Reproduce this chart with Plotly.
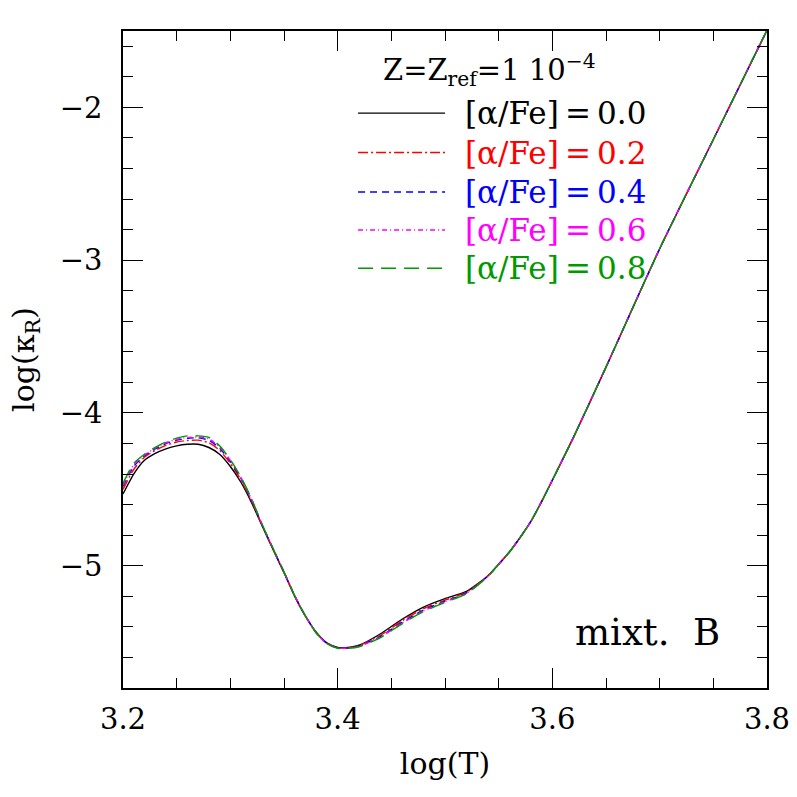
import plotly.graph_objects as go

# log(T) grid shared by all curves
log_t = [3.20, 3.21, 3.22, 3.23, 3.24, 3.25, 3.26, 3.27, 3.28, 3.29,
         3.30, 3.31, 3.32, 3.33, 3.34, 3.35, 3.36, 3.37, 3.38, 3.39,
         3.40, 3.41, 3.42, 3.44, 3.46, 3.48, 3.50, 3.52, 3.54, 3.55,
         3.56, 3.57, 3.58, 3.59, 3.60, 3.62, 3.65, 3.70, 3.75, 3.80]

kappa_00 = [-4.53, -4.40, -4.31, -4.265, -4.235, -4.215, -4.205, -4.205, -4.226, -4.27,
            -4.35, -4.455, -4.59, -4.745, -4.897, -5.045, -5.20, -5.33, -5.435, -5.505,
            -5.535, -5.535, -5.52, -5.445, -5.35, -5.27, -5.215, -5.168, -5.065, -4.99,
            -4.91, -4.815, -4.71, -4.58, -4.44, -4.155, -3.70, -2.925, -2.21, -1.495]

kappa_02 = [-4.50, -4.37, -4.29, -4.245, -4.212, -4.19, -4.18, -4.178, -4.195, -4.245,
            -4.33, -4.44, -4.58, -4.74, -4.893, -5.043, -5.198, -5.33, -5.437, -5.507,
            -5.537, -5.537, -5.523, -5.455, -5.36, -5.28, -5.225, -5.173, -5.067, -4.99,
            -4.91, -4.815, -4.71, -4.58, -4.44, -4.155, -3.70, -2.925, -2.21, -1.495]

kappa_04 = [-4.48, -4.35, -4.28, -4.235, -4.20, -4.178, -4.166, -4.163, -4.178, -4.23,
            -4.318, -4.43, -4.572, -4.738, -4.892, -5.042, -5.197, -5.33, -5.438, -5.508,
            -5.538, -5.538, -5.526, -5.462, -5.37, -5.29, -5.232, -5.178, -5.068, -4.99,
            -4.91, -4.815, -4.71, -4.58, -4.44, -4.155, -3.70, -2.925, -2.21, -1.495]

kappa_06 = [-4.47, -4.34, -4.275, -4.23, -4.195, -4.172, -4.16, -4.157, -4.17, -4.222,
            -4.31, -4.425, -4.568, -4.737, -4.891, -5.041, -5.196, -5.33, -5.439, -5.509,
            -5.539, -5.539, -5.528, -5.466, -5.375, -5.295, -5.236, -5.181, -5.069, -4.99,
            -4.91, -4.815, -4.71, -4.58, -4.44, -4.155, -3.70, -2.925, -2.21, -1.495]

kappa_08 = [-4.46, -4.33, -4.27, -4.225, -4.19, -4.165, -4.15, -4.15, -4.16, -4.215,
            -4.305, -4.42, -4.565, -4.735, -4.89, -5.04, -5.195, -5.33, -5.44, -5.51,
            -5.54, -5.54, -5.53, -5.47, -5.38, -5.30, -5.24, -5.183, -5.07, -4.99,
            -4.91, -4.815, -4.71, -4.58, -4.44, -4.155, -3.70, -2.925, -2.21, -1.495]

labels = ["[α/Fe]\u2009=\u20090.0", "[α/Fe]\u2009=\u20090.2", "[α/Fe]\u2009=\u20090.4",
          "[α/Fe]\u2009=\u20090.6", "[α/Fe]\u2009=\u20090.8"]
series = [kappa_00, kappa_02, kappa_04, kappa_06, kappa_08]
colors = ["#000000", "#ff0000", "#0000ff", "#ff00ff", "#009a00"]
dashes = ["solid", "10px,3px,2px,3px", "7px,5px", "5px,3px,1px,3px", "15px,8px"]

FONT = "DejaVu Serif"

fig = go.Figure()
for lab, ys, col, dash in zip(labels, series, colors, dashes):
    fig.add_trace(go.Scatter(
        x=log_t, y=ys, mode="lines", name=lab,
        line=dict(color=col, width=1.4, dash=dash, shape="spline", smoothing=0.6),
        showlegend=False,
    ))

# hand-made legend (line samples + coloured labels)
leg_y = [0.875, 0.815, 0.755, 0.697, 0.639]
for lab, col, dash, yy in zip(labels, colors, dashes, leg_y):
    fig.add_shape(type="line", xref="paper", yref="paper",
                  x0=0.365, x1=0.50, y0=yy, y1=yy,
                  line=dict(color=col, width=1.4, dash=dash))
    fig.add_annotation(xref="paper", yref="paper", x=0.528, y=yy,
                       text=lab, showarrow=False, xanchor="left", yanchor="middle",
                       font=dict(family=FONT, size=31, color=col))

fig.add_annotation(xref="paper", yref="paper", x=0.40, y=0.94,
                   text="Z=Z<sub>ref</sub>=1 10<sup>−4</sup>", showarrow=False,
                   xanchor="left", yanchor="middle",
                   font=dict(family=FONT, size=29, color="black"))
fig.add_annotation(xref="paper", yref="paper", x=0.699, y=0.085,
                   text="mixt.\u00a0\u00a0B", showarrow=False,
                   xanchor="left", yanchor="middle",
                   font=dict(family=FONT, size=37, color="black"))

axis_common = dict(
    showgrid=False, zeroline=False, showline=True, linecolor="black", linewidth=1.5,
    mirror="allticks", ticks="inside", ticklen=20, tickwidth=1.3, tickcolor="black",
    tickfont=dict(family=FONT, size=29, color="black"), automargin=False,
)

fig.update_xaxes(
    range=[3.2, 3.8], dtick=0.2, tick0=3.2, tickformat=".1f", ticklabelstandoff=4,
    minor=dict(dtick=0.05, ticks="inside", ticklen=10, tickwidth=1.3, tickcolor="black"),
    title=dict(text="log(T)", font=dict(family=FONT, size=30, color="black"), standoff=18),
    **axis_common,
)
fig.update_yaxes(
    range=[-5.8, -1.5], dtick=1, tick0=-2, ticklabelstandoff=13,
    minor=dict(dtick=0.2, ticks="inside", ticklen=10, tickwidth=1.3, tickcolor="black"),
    title=dict(text="log(κ<sub>R</sub>)", font=dict(family=FONT, size=30, color="black"), standoff=16),
    **axis_common,
)

fig.update_layout(
    width=797, height=797,
    margin=dict(l=123, r=30, t=31, b=109),
    paper_bgcolor="white", plot_bgcolor="white",
)

# drop the page's default body margin so the figure sits at the window origin
fig.write_html("out.html", config={"displayModeBar": False},
               post_script="document.body.style.margin='0';")
